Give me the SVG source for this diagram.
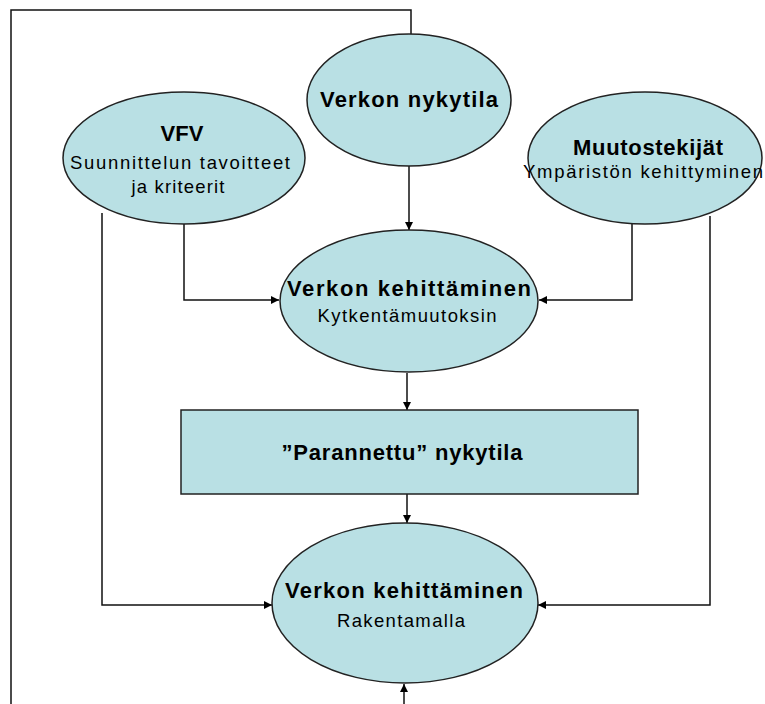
<svg xmlns="http://www.w3.org/2000/svg" width="765" height="704" viewBox="0 0 765 704">
<defs>
<style>
.n{fill:#b9e0e4;stroke:#222;stroke-width:1.5}
.c{fill:none;stroke:#111;stroke-width:1.5}
.b{font-family:"Liberation Sans",Arial,sans-serif;font-weight:bold;font-size:22px;fill:#000;text-anchor:middle}
.r{font-family:"Liberation Sans",Arial,sans-serif;font-size:18.5px;fill:#000;text-anchor:middle}
</style>
<marker id="a" viewBox="0 0 10 10" refX="10" refY="5" markerWidth="8" markerHeight="8" markerUnits="userSpaceOnUse" orient="auto">
<path d="M0,0L10,5L0,10z" fill="#000"/>
</marker>
</defs>
<rect width="765" height="704" fill="#fff"/>
<g id="connectors">
<polyline class="c" points="411,34 411,10 11,10 11,704"/>
<line class="c" x1="409" y1="166" x2="409" y2="230" marker-end="url(#a)"/>
<polyline class="c" points="184,222 184,300 279,300" marker-end="url(#a)"/>
<polyline class="c" points="632,222 632,300 539,300" marker-end="url(#a)"/>
<line class="c" x1="407" y1="373" x2="407" y2="410" stroke="#555" stroke-width="1" marker-end="url(#a)"/>
<line class="c" x1="407" y1="494" x2="407" y2="523" marker-end="url(#a)"/>
<polyline class="c" points="102,213 102,605 272,605" marker-end="url(#a)"/>
<polyline class="c" points="710,216 710,605 538,605" marker-end="url(#a)"/>
<line class="c" x1="404" y1="704" x2="404" y2="684" marker-end="url(#a)"/>
</g>
<g id="nykytila">
<ellipse class="n" cx="409" cy="100" rx="102" ry="66"/>
<text class="b" x="409" y="107" textLength="178" lengthAdjust="spacing">Verkon nykytila</text>
</g>
<g id="vfv">
<ellipse class="n" cx="184" cy="158" rx="121" ry="66"/>
<text class="b" x="182" y="141" font-size="21">VFV</text>
<text class="r" x="180" y="169" textLength="220" lengthAdjust="spacing">Suunnittelun tavoitteet</text>
<text class="r" x="178" y="193" textLength="93" lengthAdjust="spacing">ja kriteerit</text>
</g>
<g id="muutostekijat">
<ellipse class="n" cx="645" cy="158" rx="117" ry="66"/>
<text class="b" x="648" y="155" textLength="150" lengthAdjust="spacing">Muutostekijät</text>
<text class="r" x="643" y="178" textLength="240" lengthAdjust="spacing">Ympäristön kehittyminen</text>
</g>
<g id="kytkenta">
<ellipse class="n" cx="409" cy="301" rx="129" ry="71"/>
<text class="b" x="409" y="296" textLength="244" lengthAdjust="spacing">Verkon kehittäminen</text>
<text class="r" x="407" y="322" textLength="179" lengthAdjust="spacing">Kytkentämuutoksin</text>
</g>
<g id="parannettu">
<rect class="n" x="181" y="410" width="457" height="84"/>
<text class="b" x="402" y="460" textLength="241" lengthAdjust="spacing">”Parannettu” nykytila</text>
</g>
<g id="rakentamalla">
<ellipse class="n" cx="405" cy="603" rx="133" ry="80"/>
<text class="b" x="404" y="598" textLength="238" lengthAdjust="spacing">Verkon kehittäminen</text>
<text class="r" x="401" y="627" textLength="128" lengthAdjust="spacing">Rakentamalla</text>
</g>
</svg>
